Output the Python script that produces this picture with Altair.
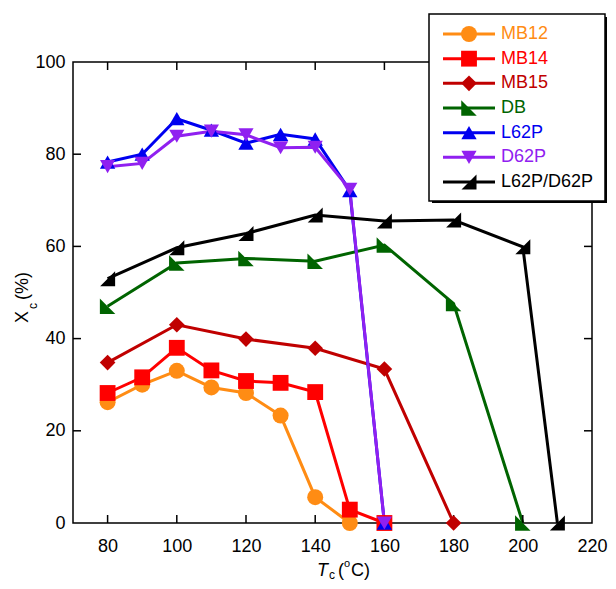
import altair as alt
import pandas as pd

FONT = "Liberation Sans"

series = ["MB12", "MB14", "MB15", "DB", "L62P", "D62P", "L62P/D62P"]
colors = ["#ff8c14", "#ff0000", "#c00000", "#006400", "#0000f0", "#9020f0", "#000000"]

T_MB12 = [80, 90, 100, 110, 120, 130, 140, 150]
MB12 = [26.2, 30.0, 33.0, 29.4, 28.2, 23.3, 5.6, 0.0]
T_MB14 = [80, 90, 100, 110, 120, 130, 140, 150, 160]
MB14 = [28.2, 31.6, 38.0, 33.1, 30.8, 30.4, 28.4, 2.9, 0.0]
T_MB15 = [80, 100, 120, 140, 160, 180]
MB15 = [34.8, 43.0, 39.9, 37.9, 33.4, 0.0]
T_DB = [80, 100, 120, 140, 160, 180, 200]
DB = [47.0, 56.4, 57.4, 56.8, 60.3, 47.6, 0.0]
T_L62P = [80, 90, 100, 110, 120, 130, 140, 150, 160]
L62P = [78.3, 80.0, 87.7, 85.2, 82.4, 84.3, 83.3, 72.1, 0.0]
T_D62P = [80, 90, 100, 110, 120, 130, 140, 150, 160]
D62P = [77.3, 78.0, 83.9, 85.0, 84.2, 81.4, 81.5, 72.4, 0.0]
T_LD = [80, 100, 120, 140, 160, 180, 200, 210]
LD = [53.0, 59.7, 62.8, 66.8, 65.5, 65.7, 59.9, 0.0]

x_ticks = [80, 100, 120, 140, 160, 180, 200, 220]
y_ticks = [0, 20, 40, 60, 80, 100]

W, H = 519, 461
TK = 8

rows = []
for name, ts, vs in [("MB12", T_MB12, MB12), ("MB14", T_MB14, MB14), ("MB15", T_MB15, MB15),
                     ("DB", T_DB, DB), ("L62P", T_L62P, L62P), ("D62P", T_D62P, D62P),
                     ("L62P/D62P", T_LD, LD)]:
    for t, v in zip(ts, vs):
        rows.append({"series": name, "mk": name, "T": t, "X": v, "ord": series.index(name)})
df = pd.DataFrame(rows)

# marker shapes (unit box -1..1)
RT_DB = "M-1,-1L1,1L-1,1Z"
RT_LD = "M1,-1L1,1L-1,1Z"
shapes = ["circle", "square", "diamond", RT_DB, "triangle-up", "triangle-down", RT_LD]
sizes = [256, 225, 400, 270, 340, 340, 270]

xscale = alt.Scale(domain=[70, 220], nice=False, zero=False)
yscale = alt.Scale(domain=[0, 100], nice=False)
cscale = alt.Scale(domain=series, range=colors)
shscale = alt.Scale(domain=series, range=shapes)
szscale = alt.Scale(domain=series, range=sizes)

common = dict(labelFontSize=18, labelFont=FONT, labelColor="black", domain=False, grid=False,
              title=None, labelFlush=False, ticks=False)
x_lab = alt.Axis(values=x_ticks, orient="bottom", labelPadding=14, **common)
y_lab = alt.Axis(values=y_ticks, orient="left", labelPadding=8, **common)

base = alt.Chart(df)

lines = base.mark_line(strokeWidth=3).encode(
    x=alt.X("T:Q", scale=xscale, axis=x_lab),
    y=alt.Y("X:Q", scale=yscale, axis=y_lab),
    color=alt.Color("series:N", scale=cscale, legend=None),
    order="T:Q",
)

points = base.mark_point(filled=True, opacity=1, strokeWidth=0).encode(
    x=alt.X("T:Q", scale=xscale, axis=x_lab),
    y=alt.Y("X:Q", scale=yscale, axis=None),
    color=alt.Color("series:N", scale=cscale, legend=None),
    shape=alt.Shape("mk:N", scale=shscale, legend=None),
    size=alt.Size("mk:N", scale=szscale, legend=None),
    order="ord:Q",
)

# inward tick marks drawn from the tick value lists through the scales
xt = pd.DataFrame({"T": x_ticks[:-1]})
yt = pd.DataFrame({"X": y_ticks[1:-1]})
tick_style = dict(color="black", strokeWidth=1.5)
ticks = [
    alt.Chart(xt).mark_rule(**tick_style).encode(x=alt.X("T:Q", scale=xscale, axis=x_lab), y=alt.value(H), y2=alt.value(H - TK)),
    alt.Chart(xt).mark_rule(**tick_style).encode(x=alt.X("T:Q", scale=xscale, axis=x_lab), y=alt.value(0), y2=alt.value(TK)),
    alt.Chart(yt).mark_rule(**tick_style).encode(y=alt.Y("X:Q", scale=yscale, axis=None), x=alt.value(0), x2=alt.value(TK)),
    alt.Chart(yt).mark_rule(**tick_style).encode(y=alt.Y("X:Q", scale=yscale, axis=None), x=alt.value(W), x2=alt.value(W - TK)),
]

# legend (box at top right, partly above the plot frame)
leg = pd.DataFrame({"series": series, "mk": series, "idx": list(range(len(series)))})
LX0, LX1, LY0, LY1 = 356, 532, -48, 139
LC = 396
lyscale = alt.Scale(domain=[0, 6], range=[-28, 120])
one = alt.Data(values=[{"a": 1}])
box_shadow = alt.Chart(one).mark_rect(fill="black").encode(
    x=alt.value(LX0 + 3), x2=alt.value(LX1 + 2), y=alt.value(LY0 + 3), y2=alt.value(LY1 + 2))
box = alt.Chart(one).mark_rect(fill="white", stroke="black", strokeWidth=1.5).encode(
    x=alt.value(LX0), x2=alt.value(LX1), y=alt.value(LY0), y2=alt.value(LY1))
leg_base = alt.Chart(leg)
leg_lines = leg_base.mark_rule(strokeWidth=3).encode(
    x=alt.value(LC - 26), x2=alt.value(LC + 26),
    y=alt.Y("idx:Q", scale=lyscale, axis=None),
    color=alt.Color("series:N", scale=cscale, legend=None),
)
leg_pts = leg_base.mark_point(filled=True, opacity=1, strokeWidth=0).encode(
    x=alt.value(LC),
    y=alt.Y("idx:Q", scale=lyscale, axis=None),
    color=alt.Color("series:N", scale=cscale, legend=None),
    shape=alt.Shape("mk:N", scale=shscale, legend=None),
    size=alt.Size("mk:N", scale=szscale, legend=None),
)
leg_txt = leg_base.mark_text(font=FONT, fontSize=18, align="left", baseline="middle").encode(
    x=alt.value(LC + 32),
    y=alt.Y("idx:Q", scale=lyscale, axis=None),
    text="series:N",
    color=alt.Color("series:N", scale=cscale, legend=None),
)

def txt(s, x, y, size=18, angle=0, style="normal"):
    return alt.Chart(one).mark_text(
        text=s, font=FONT, fontSize=size, align="left", baseline="alphabetic",
        angle=angle, fontStyle=style, color="black"
    ).encode(x=alt.value(x), y=alt.value(y))

titles = [
    txt("T", 244, 514, style="italic"),
    txt("c", 256, 517, size=12),
    txt("(", 265, 514),
    txt("o", 271, 505, size=11),
    txt("C)", 278, 514),
    txt("X", -45, 261, angle=270),
    txt("c", -36, 247, size=12, angle=270),
    txt("(%)", -45, 238, angle=270),
]

chart = alt.layer(
    lines, *ticks, points, box_shadow, box, leg_lines, leg_pts, leg_txt, *titles
).resolve_scale(y="independent").properties(
    width=W, height=H,
    autosize=alt.AutoSizeParams(type="none"),
    padding={"left": 65, "top": 54, "right": 16, "bottom": 58},
).configure_view(stroke="black", strokeWidth=1.5)

chart.save("out.html", embed_options={"renderer": "svg", "actions": False})
